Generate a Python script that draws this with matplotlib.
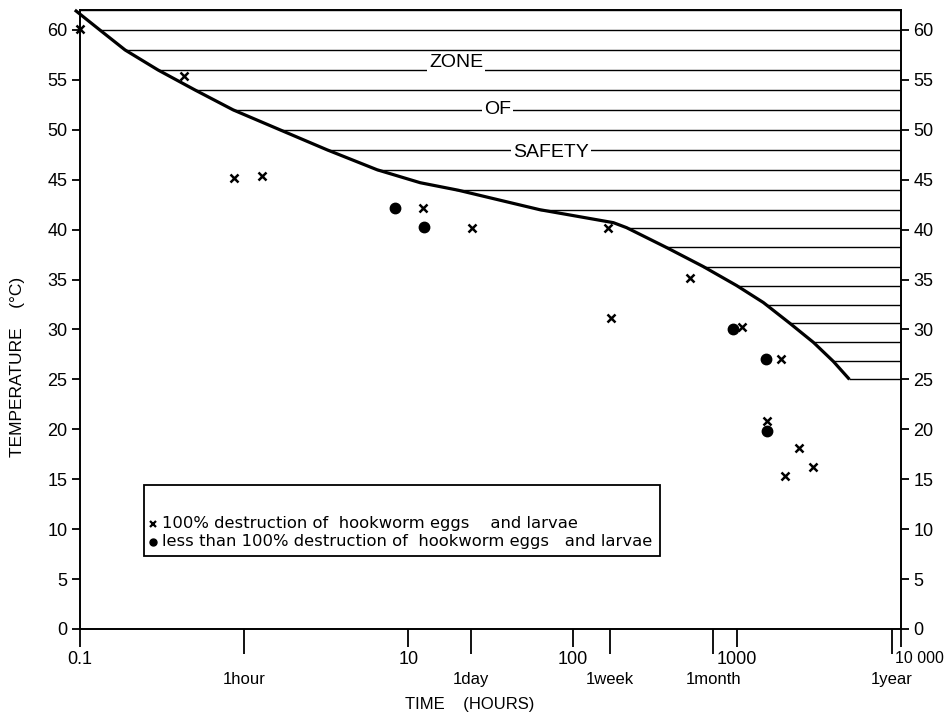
import matplotlib
matplotlib.use('Agg')
import matplotlib.pyplot as plt
from matplotlib.patches import Rectangle
import numpy as np

plt.rcParams['font.family'] = ['Liberation Sans', 'DejaVu Sans']

# boundary of the zone of safety (hours, deg C)
curve_hours = [0.093, 0.132, 0.188, 0.298, 0.50, 0.855, 1.65, 3.19, 6.44, 11.8,
               20.1, 63, 177, 213, 374, 625, 997, 1450, 2110, 2930, 3870, 4850]
curve_temp = [62, 60, 58, 56, 54, 52, 50, 48, 46, 44.7,
              43.95, 42, 40.7, 40.2, 38.2, 36.3, 34.4, 32.7, 30.6, 28.7, 26.8, 25]

# horizontal hatching of the safe zone
hatch_levels = [62, 60, 58, 56, 54, 52, 50, 48, 46, 44, 42, 40.2, 38.3,
                36.3, 34.4, 32.5, 30.6, 28.7, 26.8, 25]

# 100% destruction (x)
full_hours = [0.1, 0.43, 0.87, 1.29, 12.2, 24.3, 165, 171, 519, 1072, 1850,
              1517, 2393, 2926, 1967]
full_temp = [60.1, 55.4, 45.2, 45.35, 42.2, 40.2, 40.2, 31.2, 35.2, 30.2, 27.05,
             20.8, 18.1, 16.2, 15.3]

# less than 100% destruction (dots)
part_hours = [8.28, 12.4, 953, 1500, 1517]
part_temp = [42.2, 40.3, 30.0, 27.0, 19.8]

num_ticks = [0.1, 10, 100, 1000, 10000]
num_labels = ['0.1', '10', '100', '1000', '']
period_ticks = [1, 24, 168, 720, 8760]
period_labels = ['1hour', '1day', '1week', '1month', '1year']

fig = plt.figure(figsize=(9.46, 7.2), dpi=100)
ax = fig.add_axes([0.0846, 0.1264, 0.8679, 0.8597])
ax.set_xscale('log')
ax.set_xlim(0.1, 10000)
ax.set_ylim(0, 62)

# hatching: from the boundary curve to the right edge
log_c = np.log10(curve_hours)
for lev in hatch_levels:
    x0 = 10 ** np.interp(lev, curve_temp[::-1], log_c[::-1])
    ax.hlines(lev, x0, 10000, color='black', lw=1.0, zorder=2)

ax.plot(curve_hours, curve_temp, color='black', lw=2.3, zorder=3,
        solid_capstyle='butt', solid_joinstyle='round', clip_on=False)

ax.plot(full_hours, full_temp, 'x', color='black', ms=6, mew=1.8,
        zorder=4, clip_on=False)
ax.plot(part_hours, part_temp, 'o', color='black', ms=7.5, zorder=4)

for txt, xh, yt in [('ZONE', 19.5, 56.7), ('OF', 34.7, 52.0), ('SAFETY', 74, 47.7)]:
    ax.text(xh, yt, txt, ha='center', va='center', fontsize=14, zorder=5,
            bbox=dict(facecolor='white', edgecolor='none', pad=1.5))

# legend box
ax.add_patch(Rectangle((0.078, 0.118), 0.628, 0.115, transform=ax.transAxes,
                       facecolor='white', edgecolor='black', lw=1.3, zorder=6))
ax.plot([0.089], [0.170], 'x', color='black', ms=5, mew=1.6,
        transform=ax.transAxes, zorder=7)
ax.plot([0.089], [0.141], 'o', color='black', ms=5, transform=ax.transAxes, zorder=7)
ax.text(0.100, 0.170, '100% destruction of  hookworm eggs    and larvae',
        transform=ax.transAxes, va='center', ha='left', fontsize=11.8,
        family=['DejaVu Sans'], zorder=7)
ax.text(0.100, 0.141, 'less than 100% destruction of  hookworm eggs   and larvae',
        transform=ax.transAxes, va='center', ha='left', fontsize=11.8,
        family=['DejaVu Sans'], zorder=7)

# axes styling
for s in ax.spines.values():
    s.set_linewidth(1.4)

ax.set_xticks(num_ticks, num_labels)
ax.set_xticks(period_ticks, period_labels, minor=True)
ax.tick_params(axis='x', which='major', length=13, width=1.3, direction='out',
               pad=3, labelsize=13)
ax.tick_params(axis='x', which='minor', length=18, width=1.3, direction='out',
               pad=13, labelsize=12)
ax.annotate('10 000', xy=(10000, 0), xycoords=('data', 'axes fraction'),
            xytext=(13, -21), textcoords='offset points', ha='center', va='center',
            fontsize=11.5, annotation_clip=False)
ax.set_yticks(range(0, 61, 5))
ax.tick_params(axis='y', which='major', left=True, right=True, labelleft=True,
               labelright=True, length=6, width=1.3, direction='out', pad=3,
               labelsize=13)
ax.tick_params(axis='y', which='minor', left=False, right=False)

fig.text(0.019, 0.49, 'TEMPERATURE    (°C)', rotation=90, ha='center', va='center',
         fontsize=12.5)
fig.text(0.497, 0.021, 'TIME    (HOURS)', ha='center', va='center', fontsize=12)

fig.savefig('out.png', dpi=100, facecolor='white')
